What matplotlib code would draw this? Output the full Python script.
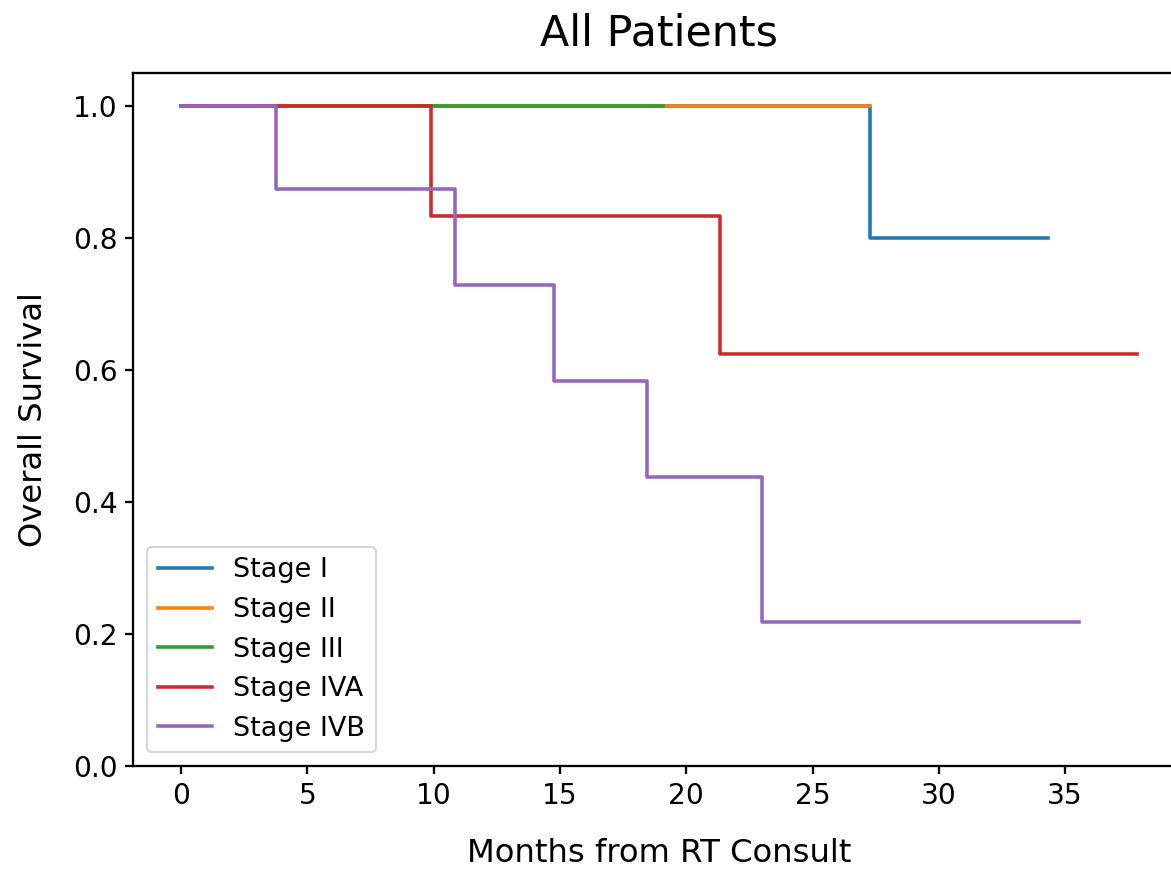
import matplotlib
matplotlib.use("Agg")
import matplotlib.pyplot as plt

# Kaplan-Meier step values
stage_labels = ["Stage I", "Stage II", "Stage III", "Stage IVA", "Stage IVB"]

months_I = [0, 27.26, 34.3]
surv_I = [1.0, 0.8, 0.8]

months_II = [0, 27.26]
surv_II = [1.0, 1.0]

months_III = [0, 19.06]
surv_III = [1.0, 1.0]

months_IVA = [0, 9.88, 21.34, 37.86]
surv_IVA = [1.0, 0.833, 0.625, 0.625]

months_IVB = [0, 3.77, 10.83, 14.75, 18.46, 22.98, 35.53]
surv_IVB = [1.0, 0.875, 0.729, 0.583, 0.4375, 0.21875, 0.21875]

months = [months_I, months_II, months_III, months_IVA, months_IVB]
survival = [surv_I, surv_II, surv_III, surv_IVA, surv_IVB]

fig = plt.figure(figsize=(1171 / 150, 869 / 150), dpi=150)
ax = fig.add_axes([0.1138, 0.1185, 0.8984, 0.7975])

for t, s, lab in zip(months, survival, stage_labels):
    ax.step(t, s, where="post", label=lab, linewidth=1.7)

ax.set_ylim(0, 1.05)
ax.set_title("All Patients", fontsize=20.5, pad=13)
ax.set_xlabel("Months from RT Consult", fontsize=15.5, labelpad=13.5)
ax.set_ylabel("Overall Survival", fontsize=15.5, labelpad=11.5)
ax.tick_params(labelsize=13.5, width=1.1, length=4)
for sp in ax.spines.values():
    sp.set_linewidth(1.1)
ax.legend(loc="lower left", fontsize=13)

fig.savefig("out.png", dpi=150)
